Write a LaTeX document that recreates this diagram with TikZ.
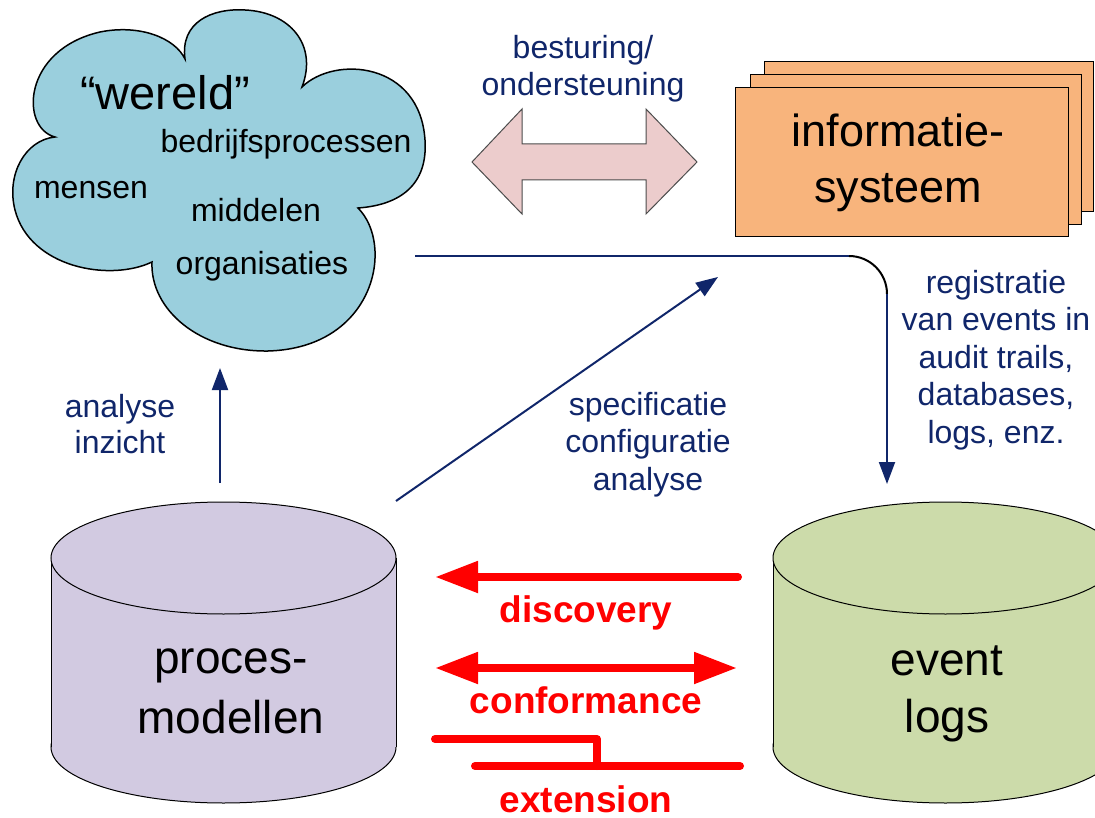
\documentclass[tikz,border=0pt]{standalone}
\usepackage{fontspec}
\setmainfont{Liberation Sans}
\usetikzlibrary{arrows.meta}
\definecolor{navy}{RGB}{16,38,106}
\definecolor{cloudfill}{RGB}{154,207,221}
\definecolor{pinkfill}{RGB}{236,204,204}
\definecolor{orangefill}{RGB}{248,180,124}
\definecolor{lavfill}{RGB}{210,202,225}
\definecolor{greenfill}{RGB}{204,219,170}
\definecolor{pred}{RGB}{255,0,0}
\tikzset{
  bluetxt/.style={text=navy, align=center, inner sep=0pt, font=\fontsize{32}{37.5}\selectfont},
  cloudtxt/.style={text=black, inner sep=0pt, font=\fontsize{32}{38}\selectfont},
  bigtxt/.style={text=black, align=center, inner sep=0pt, font=\fontsize{46}{58}\selectfont},
  redtxt/.style={text=pred, inner sep=0pt, font=\fontsize{37}{44}\selectfont\bfseries},
  navyarrow/.style={draw=navy, line width=2pt, -{Triangle[length=22pt,width=16pt]}},
  redline/.style={draw=pred, line width=8pt, line cap=round},
  outline/.style={draw=black, line width=1pt}
}
\begin{document}
\begin{tikzpicture}[x=1pt,y=-1pt]
\useasboundingbox (0,0) rectangle (1095,818);
\begin{scope}
\clip (0,0) rectangle (1095,818);
% cloud
\filldraw[fill=cloudfill, outline, line width=1.5pt]
  (55,137) .. controls (20,128) and (22,50) .. (100,32)
  .. controls (140,24) and (175,38) .. (185,59)
  .. controls (180,22) and (212,8) .. (245,10)
  .. controls (290,12) and (318,45) .. (302,87)
  .. controls (335,55) and (420,62) .. (425,140)
  .. controls (428,185) and (400,205) .. (358,208)
  .. controls (395,245) and (375,348) .. (268,351)
  .. controls (200,352) and (150,310) .. (152,262)
  .. controls (110,282) and (30,268) .. (15,210)
  .. controls (6,175) and (25,140) .. (55,137) -- cycle;
\node[cloudtxt, font=\fontsize{47}{56}\selectfont, anchor=base] (wereld) at (165,110) {“wereld”};
\node[cloudtxt, anchor=base] (bedrijf) at (286,153) {bedrijfsprocessen};
\node[cloudtxt, anchor=base] (mensen) at (91,199) {mensen};
\node[cloudtxt, anchor=base] (middelen) at (256,222) {middelen};
\node[cloudtxt, anchor=base] (organisaties) at (262,275) {organisaties};

% pink double arrow
\filldraw[fill=pinkfill, draw=black!70, line width=1pt]
  (472,162) -- (522,109) -- (522,144) -- (646,144) -- (646,109) -- (697,162)
  -- (646,214) -- (646,180) -- (522,180) -- (522,214) -- cycle;
\node[bluetxt, anchor=base] (besturing) at (583,96) {besturing/\\ondersteuning};

% information system stack
\filldraw[fill=orangefill, outline] (764,62) rectangle (1093,212);
\filldraw[fill=orangefill, outline] (750,75) rectangle (1081,225);
\filldraw[fill=orangefill, outline] (735,88) rectangle (1068,237);
\node[bigtxt, font=\fontsize{45}{56}\selectfont, anchor=base] (infosys) at (898,203) {informatie-\\systeem};

% cylinders
\filldraw[fill=lavfill, outline] (223.5,747) ellipse [x radius=172.5, y radius=56];
\fill[lavfill] (51,558) rectangle (396,747);
\draw[outline] (51,558) -- (51,747) (396,558) -- (396,747);
\filldraw[fill=lavfill, outline] (223.5,558) ellipse [x radius=172.5, y radius=56];
\node[bigtxt, font=\fontsize{46}{60}\selectfont, anchor=base] (proces) at (231,733) {proces-\\modellen};

\filldraw[fill=greenfill, outline] (945.5,747) ellipse [x radius=172.5, y radius=56];
\fill[greenfill] (773,558) rectangle (1118,747);
\draw[outline] (773,558) -- (773,747) (1118,558) -- (1118,747);
\filldraw[fill=greenfill, outline] (945.5,558) ellipse [x radius=172.5, y radius=56];
\node[bigtxt, font=\fontsize{46}{57}\selectfont, anchor=base] (eventlogs) at (947,732) {event\\logs};

% navy connectors
\coordinate (pmtop) at (220,483);
\coordinate (cloudbot) at (220,368);
\draw[navyarrow] (pmtop) -- (cloudbot);
\node[bluetxt, font=\fontsize{32}{36}\selectfont, anchor=base] (analyse) at (120,453) {analyse\\inzicht};

\coordinate (pmcorner) at (396,501);
\coordinate (ishook) at (718,277);
\draw[navyarrow] (pmcorner) -- (ishook);
\node[bluetxt, anchor=base] (spec) at (648,490) {specificatie\\configuratie\\analyse};

\coordinate (hstart) at (415,256);
\coordinate (hend) at (849,256);
\coordinate (vstart) at (887,294);
\coordinate (elogtop) at (887,484);
\draw[navy, line width=2pt] (hstart) -- (hend);
\draw[black, line width=2pt] (hend) .. controls (870,256) and (887,273) .. (vstart);
\draw[navyarrow] (vstart) -- (elogtop);
\node[bluetxt, anchor=base] (registratie) at (996,443) {registratie\\van events in\\audit trails,\\databases,\\logs, enz.};

% red process-mining arrows
\coordinate (discR) at (738,577);
\coordinate (discL) at (435,577);
\draw[redline, -{Triangle[length=43pt,width=30pt]}] (discR) -- (discL);
\node[redtxt, anchor=base] (discovery) at (586,622) {discovery};

\coordinate (confL) at (435,668);
\coordinate (confR) at (737,668);
\draw[redline, {Triangle[length=43pt,width=30pt]}-{Triangle[length=43pt,width=30pt]}] (confL) -- (confR);
\node[redtxt, anchor=base] (conformance) at (586,713) {conformance};

\coordinate (extA) at (435,739);
\coordinate (extB) at (597,766);
\coordinate (extC) at (475,766);
\coordinate (extD) at (740,766);
\draw[redline, line join=round] (extA) -| (extB);
\draw[redline] (extC) -- (extD);
\node[redtxt, anchor=base] (extension) at (586,812) {extension};
\end{scope}
\end{tikzpicture}
\end{document}
